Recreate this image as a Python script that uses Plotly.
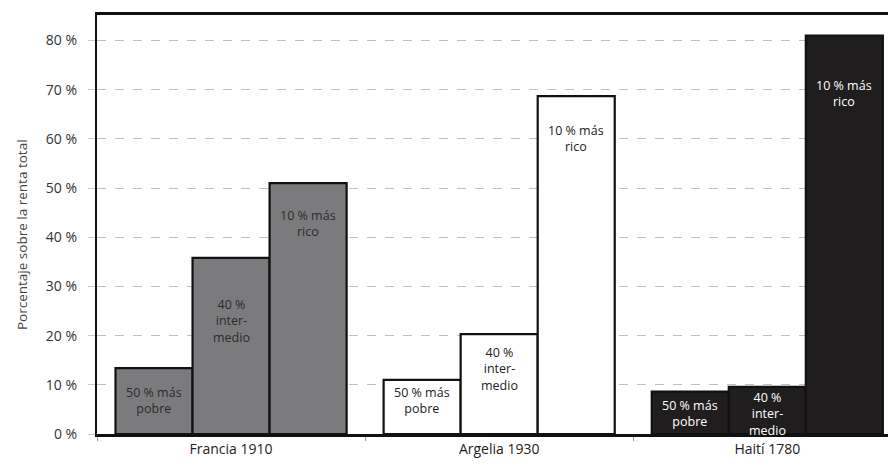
import plotly.graph_objects as go

# data
countries = ['Francia 1910', 'Argelia 1930', 'Haití 1780']
groups = ['50 % más pobre', '40 % intermedio', '10 % más rico']
bottom50 = [13.4, 11.0, 8.6]
middle40 = [35.8, 20.3, 9.6]
top10 = [51.0, 68.7, 81.0]
bar_labels = ['50 % más<br>pobre', '40 %<br>inter-<br>medio', '10 % más<br>rico']
y_ticks = [0, 10, 20, 30, 40, 50, 60, 70, 80]
y_ticktext = [f'{v} %' for v in y_ticks]
y_title = 'Porcentaje sobre la renta total'

fill_colors = ['#7b7b7d', '#ffffff', '#1f1d1e']
text_colors = ['#2b2b2b', '#222222', '#ffffff']
# distance (px) from top of bar to the first text line, per country / group
label_drop = [[22, 44, 30], [10, 16, 32], [11, 8, 47]]

FONT = 'Open Sans'
bargap = 0.138
bar_w = (1 - bargap) / 3

fig = go.Figure()
series = [bottom50, middle40, top10]
for name, vals in zip(groups, series):
    fig.add_trace(go.Bar(
        x=countries,
        y=vals,
        name=name,
        marker=dict(color=fill_colors, line=dict(color='#111111', width=2.2)),
        hoverinfo='y',
    ))

# labels inside the bars
for j, vals in enumerate(series):
    for i, v in enumerate(vals):
        fig.add_annotation(
            x=i + (j - 1) * bar_w, y=v, xref='x', yref='y',
            text=bar_labels[j], showarrow=False,
            yanchor='top', yshift=-(label_drop[i][j] - 8),
            font=dict(family=FONT, size=12.5, color=text_colors[i]),
            align='center',
        )

# y axis title, placed by hand to sit a little below centre
fig.add_annotation(
    x=-0.094, y=0.477, xref='paper', yref='paper',
    text=y_title, textangle=-90, showarrow=False,
    xanchor='center', yanchor='middle',
    font=dict(family=FONT, size=13.5, color='#444444'),
)

# the page body adds an 8px offset, so the figure is 8px smaller each way
fig.update_layout(
    width=888, height=460,
    margin=dict(l=89, r=0, t=7, b=34),
    paper_bgcolor='white', plot_bgcolor='white',
    barmode='group', bargap=bargap, bargroupgap=0,
    showlegend=False,
    font=dict(family=FONT, color='#333333'),
    xaxis=dict(
        type='category',
        range=[-0.5, 2.48],
        showgrid=False,
        showline=True, linecolor='#111111', linewidth=2.5, mirror=True,
        ticks='outside', tickson='boundaries', ticklen=4, tickcolor='#999999',
        tickfont=dict(family=FONT, size=14, color='#222222'),
    ),
    yaxis=dict(
        range=[0, 85.2],
        tickvals=y_ticks, ticktext=y_ticktext,
        showgrid=True, gridcolor='#c0c0c0', gridwidth=1, griddash='dash',
        showline=True, linecolor='#111111', linewidth=2.2,
        ticks='outside', ticklen=7, tickcolor='#c8c8c8',
        ticklabelstandoff=8,
        tickfont=dict(family=FONT, size=14, color='#333333'),
        zeroline=False,
    ),
)

fig.write_html('out.html')
